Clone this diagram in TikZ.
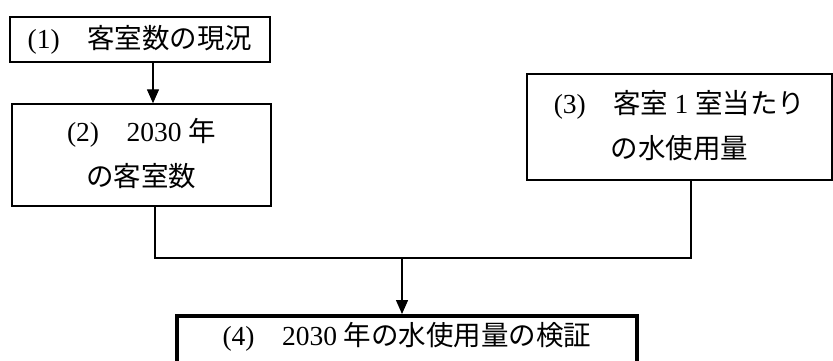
\documentclass[tikz,border=0pt]{standalone}
\usepackage{fontspec}
\setmainfont{Liberation Serif}
\newfontfamily\cjk{Noto Sans CJK JP}
\usetikzlibrary{arrows.meta}
\newcommand\twolines[2]{\vbox{\baselineskip=45pt\lineskiplimit=-100pt\lineskip=0pt\halign{\hfil##\hfil\cr#1\cr#2\cr}}}
\tikzset{
  box/.style={draw=black, line width=1.4pt, fill=white, align=center, inner sep=0pt,
    font=\fontsize{27.5}{45}\selectfont},
  thickbox/.style={box, line width=4pt},
  conn/.style={draw=black, line width=1.4pt},
  arr/.style={conn, -{Triangle[width=12pt,length=14pt]}}
}
\begin{document}
\begin{tikzpicture}[x=1pt,y=-1pt]
\useasboundingbox (0,0) rectangle (833,361);
\node[box, minimum width=260pt, minimum height=45pt] (b1) at (140,39.5)
  {\raisebox{-2pt}{(1)\cjk　客室数の現況}};
\node[box, minimum width=259pt, minimum height=102pt] (b2) at (141.5,155)
  {\raisebox{5pt}{\twolines{(2)\cjk　\rmfamily 2030 \cjk 年}{\cjk の客室数}}};
\node[box, minimum width=305pt, minimum height=106pt] (b3) at (679.5,127)
  {\raisebox{5pt}{\twolines{(3)\cjk　客室 \rmfamily 1 \cjk 室当たり}{\cjk の水使用量}}};
\node[thickbox, minimum width=460pt, minimum height=60pt, text height=0pt, text depth=2pt] (b4) at (407,346)
  {(4)\cjk　\rmfamily 2030 \cjk 年の水使用量の検証};
\coordinate (jl) at (155,258);
\coordinate (jr) at (691,258);
\coordinate (jm) at (402,258);
\coordinate (a1) at (153,0);
\draw[arr] (b1.south -| a1) -- (b2.north -| a1);
\draw[conn] (b2.south -| jl) -- (jl) -- (jr) -- (b3.south -| jr);
\draw[arr] (jm) -- (b4.north -| jm);
\end{tikzpicture}
\end{document}
